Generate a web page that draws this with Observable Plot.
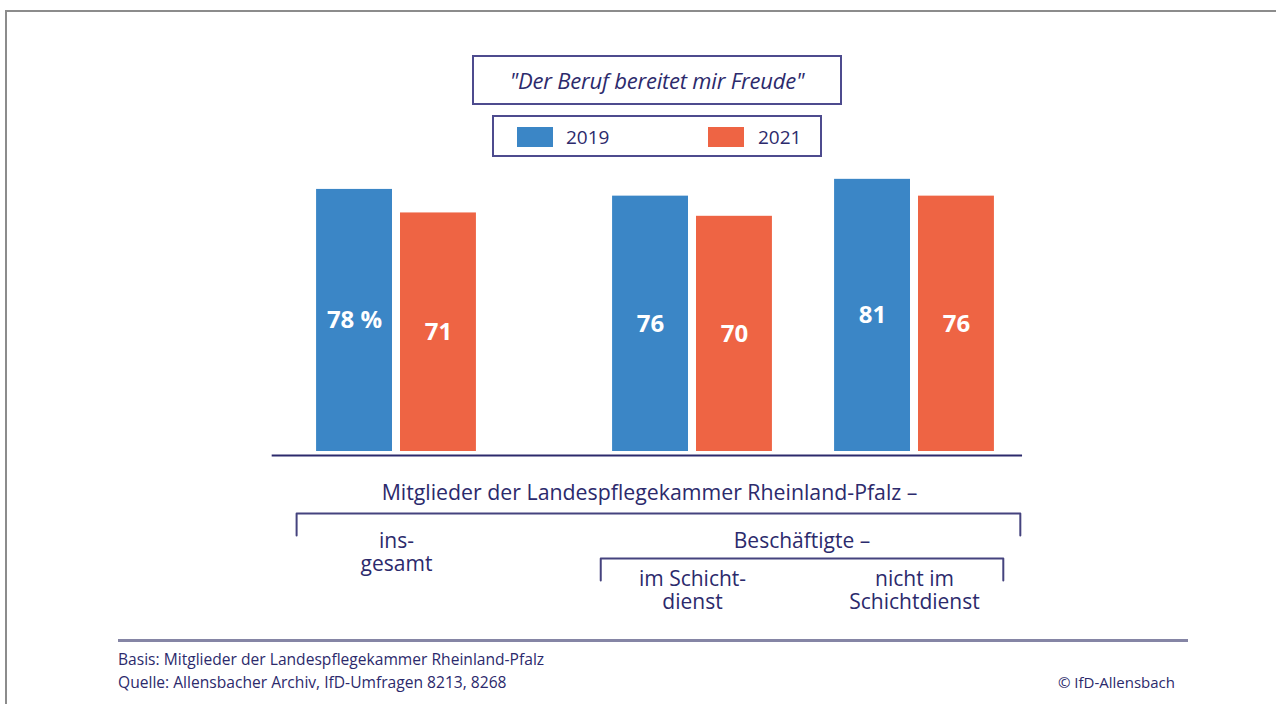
<!DOCTYPE html>
<html>
<head>
<meta charset="utf-8">
<script src="https://cdn.jsdelivr.net/npm/d3@7"></script>
<script src="https://cdn.jsdelivr.net/npm/@observablehq/plot@0.6"></script>
<style>
  html, body { margin: 0; padding: 0; background: #fff; overflow: hidden; }
  #page { position: relative; width: 1276px; height: 704px; overflow: hidden; font-family: "Open Sans", sans-serif; color: #2c2a6c; }
  #frame { position: absolute; left: 5px; top: 10px; width: 1400px; height: 800px; border: 2px solid #8c8c8c; }
  #chart { position: absolute; left: 0; top: 0; }
  #title { position: absolute; left: 472px; top: 55px; width: 366px; height: 46px; border: 2px solid #4d4b8e;
           text-align: center; line-height: 46px; font-size: 22px; font-style: italic; color: #2c2a6c; letter-spacing: -0.2px; }
  #legend { position: absolute; left: 492px; top: 115px; width: 326px; height: 38px; border: 2px solid #4d4b8e; }
  .sw { position: absolute; width: 36px; height: 20px; top: 10px; }
  .lab { position: absolute; top: 0; line-height: 40px; font-size: 19px; color: #2c2a6c; }
  #rule { position: absolute; left: 118px; top: 639px; width: 1070px; height: 3px; background: #8585a5; }
  #foot { position: absolute; left: 118px; top: 648px; font-size: 15.6px; line-height: 23px; letter-spacing: 0; color: #2c2a6c; }
  #credit { position: absolute; right: 101px; top: 671px; font-size: 15px; line-height: 23px; color: #2c2a6c; }
</style>
</head>
<body>
<div id="page">
  <div id="frame"></div>
  <div id="chart"></div>
  <div id="title"></div>
  <div id="legend"></div>
  <div id="rule"></div>
  <div id="foot"></div>
  <div id="credit"></div>
</div>
<script>
// ---- data ----
const groups = ["insgesamt", "im Schichtdienst", "nicht im Schichtdienst"];
const groupLabels = ["ins-\ngesamt", "im Schicht-\ndienst", "nicht im\nSchichtdienst"];
const groupLevel = [1, 2, 2];
const groupSlot = [0, 4, 7];
const years = ["2019", "2021"];
const values2019 = [78, 76, 81];
const values2021 = [71, 70, 76];
const labels2019 = ["78 %", "76", "81"];
const labels2021 = ["71", "70", "76"];
const colors = ["#3b86c6", "#ee6444"];
const titleText = "\"Der Beruf bereitet mir Freude\"";
const header1 = "Mitglieder der Landespflegekammer Rheinland-Pfalz –";
const header2 = "Beschäftigte –";
const footerLines = ["Basis: Mitglieder der Landespflegekammer Rheinland-Pfalz", "Quelle: Allensbacher Archiv, IfD-Umfragen 8213, 8268"];
const credit = "© IfD-Allensbach";

// ---- build table ----
const rows = [];
groups.forEach((g, i) => {
  rows.push({group: g, year: years[0], yi: 0, value: values2019[i], label: labels2019[i], slot: groupSlot[i]});
  rows.push({group: g, year: years[1], yi: 1, value: values2021[i], label: labels2021[i], slot: groupSlot[i]});
});
const groupRows = groups.map((g, i) => ({group: g, text: groupLabels[i], level: groupLevel[i], slot: groupSlot[i]}));

const navy = "#2c2a6c";
const W = 1.08;           // bar width in slot units
const first = groupSlot[0], last = groupSlot[groupSlot.length - 1], sub = groupSlot[1];
const bigL = first - 1.35, bigR = last + 1.43;
const subL = sub - 1.24, subR = last + 1.2;

const chart = Plot.plot({
  width: 1276,
  height: 704,
  x: {type: "linear", domain: [-4, 10], range: [100, 1136], axis: null},
  y: {domain: [0, 100], range: [451, 115], axis: null},
  style: {fontFamily: "Open Sans", background: "transparent", overflow: "visible"},
  marks: [
    Plot.rect(rows.filter(d => d.yi === 0), {x1: d => d.slot - W, x2: d => d.slot, y1: 0, y2: "value", fill: colors[0], insetRight: 4}),
    Plot.rect(rows.filter(d => d.yi === 1), {x1: d => d.slot, x2: d => d.slot + W, y1: 0, y2: "value", fill: colors[1], insetLeft: 4}),
    Plot.text(rows, {x: d => d.slot + (d.yi ? 1 : -1) * 0.567, y: d => d.value / 2, text: "label",
      fill: "white", fontWeight: "bold", fontSize: 24}),
    Plot.ruleY([0], {x1: first - 1.68, x2: last + 1.46, stroke: navy, strokeWidth: 2, dy: 4}),
    Plot.text([header1], {x: (bigL + bigR) / 2 - 0.12, y: -12.5, text: d => d, fill: navy, fontSize: 21.3}),
    Plot.line([[bigL, -25], [bigL, -18.45], [bigR, -18.45], [bigR, -25]], {stroke: "#45437e", strokeWidth: 2}),
    Plot.text([header2], {x: (subL + subR) / 2, y: -26.8, text: d => d, fill: navy, fontSize: 21}),
    Plot.line([[subL, -38.4], [subL, -31.85], [subR, -31.85], [subR, -38.4]], {stroke: "#45437e", strokeWidth: 2}),
    Plot.text(groupRows.filter(d => d.level === 1), {x: "slot", y: -29.9, text: "text", fill: navy, fontSize: 21, lineHeight: 1.1, lineAnchor: "middle"}),
    Plot.text(groupRows.filter(d => d.level === 2), {x: "slot", y: -41.2, text: "text", fill: navy, fontSize: 21, lineHeight: 1.1, lineAnchor: "middle"})
  ]
});
document.getElementById("chart").appendChild(chart);

// ---- title, legend, footer ----
document.getElementById("title").textContent = titleText;
const legend = document.getElementById("legend");
years.forEach((y, i) => {
  const sw = document.createElement("div");
  sw.className = "sw";
  sw.style.left = (23 + i * 191) + "px";
  sw.style.background = colors[i];
  legend.appendChild(sw);
  const lb = document.createElement("div");
  lb.className = "lab";
  lb.style.left = (72 + i * 192) + "px";
  lb.textContent = y;
  legend.appendChild(lb);
});
document.getElementById("foot").innerHTML = footerLines.map(t => "<div>" + t + "</div>").join("");
document.getElementById("credit").textContent = credit;
</script>
</body>
</html>
